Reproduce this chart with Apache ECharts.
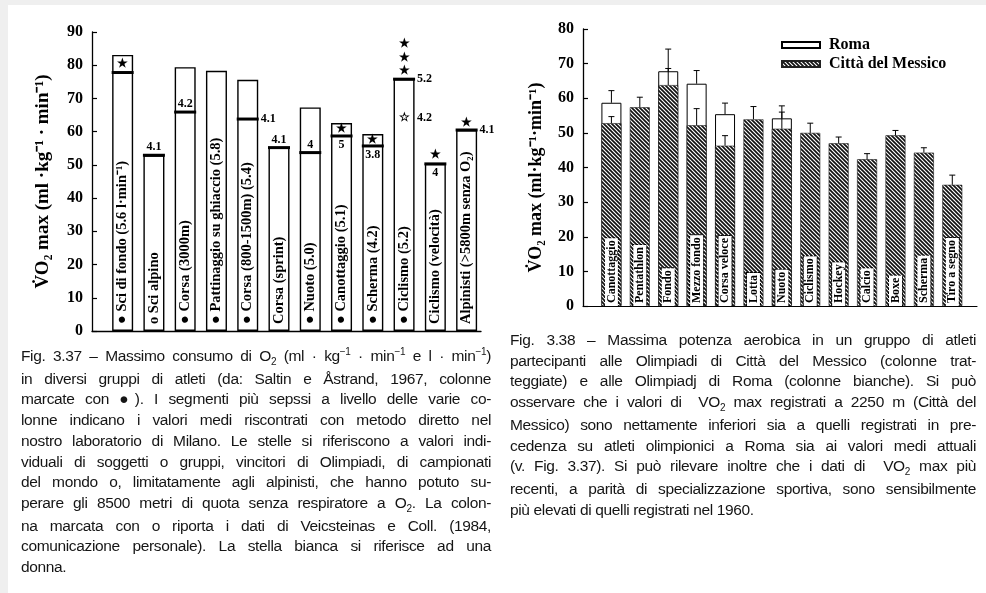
<!DOCTYPE html>
<html><head><meta charset="utf-8">
<script src="https://cdn.jsdelivr.net/npm/echarts@6/dist/echarts.min.js"></script>
<style>
html,body{margin:0;padding:0;background:#fff;width:986px;height:593px;overflow:hidden;}
#bandTop{position:absolute;left:0;top:0;width:986px;height:5px;background:#efefef;}
#bandLeft{position:absolute;left:0;top:0;width:8px;height:593px;background:#efefef;}
#c{position:absolute;left:0;top:0;width:986px;height:593px;}
.cap{position:absolute;font-family:"Liberation Sans",Arial,sans-serif;font-size:15.5px;letter-spacing:-0.35px;line-height:20.7px;color:#151515;}
.cap div{text-align:justify;text-align-last:justify;white-space:nowrap;}
.cap div.last{text-align-last:left;}
.sb{font-size:10px;position:relative;top:4px;}
.sp{font-size:10px;position:relative;top:-6px;}
</style></head>
<body>
<div id="bandTop"></div><div id="bandLeft"></div>
<div id="c"></div>
<div class="cap" id="capL" style="left:21px;top:346px;width:470px;"></div>
<div class="cap" id="capR" style="left:510px;top:330px;width:466px;"></div>
<script>
// ---------- Fig. 3.37 data ----------
const leftCats = ['● Sci di fondo (5.6 l·min⁻¹)', 'o Sci alpino', '● Corsa (3000m)', '● Pattinaggio su ghiaccio (5.8)',
  '● Corsa (800-1500m) (5.4)', 'Corsa (sprint)', '● Nuoto (5.0)', '● Canottaggio (5.1)', '● Scherma (4.2)',
  '● Ciclismo (5.2)', 'Ciclismo (velocità)', 'Alpinisti (>5800m senza O₂)'];
const leftValues = [83.1, 52.9, 79.4, 78.3, 75.6, 55.2, 67.3, 62.6, 59.3, 75.8, 50.3, 60.5];
const leftMilano = [77.8, 52.9, 65.9, null, 63.8, 55.2, 53.7, 58.7, 55.7, 75.8, 50.3, 60.5];
// [bar index, value, text, placement]
const leftNotes = [[1, 52.9, '4.1', 'above'], [2, 65.9, '4.2', 'above'], [4, 63.8, '4.1', 'right'],
  [5, 55.2, '4.1', 'above'], [6, 53.7, '4', 'above'], [7, 58.7, '5', 'below'], [8, 55.7, '3.8', 'below'],
  [9, 75.8, '5.2', 'right'], [9, 64.1, '4.2', 'right'], [10, 50.3, '4', 'below'], [11, 60.5, '4.1', 'right']];
const leftStars = [[0, 80.3, '★'], [7, 60.7, '★'], [8, 57.5, '★'], [9, 86.4, '★'], [9, 82.1, '★'],
  [9, 78.3, '★'], [9, 64.1, '☆'], [10, 53.1, '★'], [11, 62.6, '★']];
const leftTicks = [0, 10, 20, 30, 40, 50, 60, 70, 80, 90];

// ---------- Fig. 3.38 data ----------
const rightCats = ['Canottaggio', 'Pentathlon', 'Fondo', 'Mezzo fondo', 'Corsa veloce', 'Lotta', 'Nuoto',
  'Ciclismo', 'Hockey', 'Calcio', 'Boxe', 'Scherma', 'Tiro a segno'];
const romaValues = [58.7, null, 67.8, 64.2, 55.4, null, 54.2, null, null, null, null, null, null];
const romaErrTop = [62.2, null, 74.2, 68.0, 58.6, null, 57.8, null, null, null, null, null, null];
const messicoValues = [52.8, 57.4, 63.8, 52.2, 46.3, 53.9, 51.2, 50.0, 47.0, 42.4, 49.3, 44.3, 35.0];
const messicoErrTop = [54.7, 60.3, 68.6, 57.0, 49.2, 57.6, 56.0, 52.8, 48.8, 44.0, 50.7, 45.7, 37.8];
const rightTicks = [0, 10, 20, 30, 40, 50, 60, 70, 80];

// ---------- captions ----------
const capLeft = [
 'Fig. 3.37 – Massimo consumo di O<span class="sb">2</span> (ml · kg<span class="sp">−1</span> · min<span class="sp">−1</span> e l · min<span class="sp">−1</span>)',
 'in diversi gruppi di atleti (da: Saltin e Åstrand, 1967, colonne',
 'marcate con ●). I segmenti più sepssi a livello delle varie co-',
 'lonne indicano i valori medi riscontrati con metodo diretto nel',
 'nostro laboratorio di Milano. Le stelle si riferiscono a valori indi-',
 'viduali di soggetti o gruppi, vincitori di Olimpiadi, di campionati',
 'del mondo o, limitatamente agli alpinisti, che hanno potuto su-',
 'perare gli 8500 metri di quota senza respiratore a O<span class="sb">2</span>. La colon-',
 'na marcata con o riporta i dati di Veicsteinas e Coll. (1984,',
 'comunicazione personale). La stella bianca si riferisce ad una',
 'donna.'];
const capRight = [
 'Fig. 3.38 – Massima potenza aerobica in un gruppo di atleti',
 'partecipanti alle Olimpiadi di Città del Messico (colonne trat-',
 'teggiate) e alle Olimpiadj di Roma (colonne bianche). Si può',
 'osservare che i valori di &nbsp;VO<span class="sb">2</span> max registrati a 2250 m (Città del',
 'Messico) sono nettamente inferiori sia a quelli registrati in pre-',
 'cedenza su atleti olimpionici a Roma sia ai valori medi attuali',
 '(v. Fig. 3.37). Si può rilevare inoltre che i dati di &nbsp;VO<span class="sb">2</span> max più',
 'recenti, a parità di specializzazione sportiva, sono sensibilmente',
 'più elevati di quelli registrati nel 1960.'];
function fillCap(id, lines){
  document.getElementById(id).innerHTML = lines.map((l, i) =>
    '<div' + (i === lines.length - 1 ? ' class="last"' : '') + '>' + l + '</div>').join('');
}
fillCap('capL', capLeft);
fillCap('capR', capRight);

// ---------- hatch pattern ----------
const hatch = document.createElement('canvas');
hatch.width = 4; hatch.height = 4;
(function(){
  const g = hatch.getContext('2d');
  g.fillStyle = '#fff'; g.fillRect(0, 0, 4, 4);
  g.strokeStyle = '#111'; g.lineWidth = 1.7;
  for (let k = -1; k <= 1; k++) {
    g.beginPath(); g.moveTo(-1, -1 + k * 4); g.lineTo(5, 5 + k * 4); g.stroke();
  }
})();
const hatchFill = { image: hatch, repeat: 'repeat' };

const SERIF = '"Liberation Serif","Times New Roman",serif';
const chart = echarts.init(document.getElementById('c'), null, { renderer: 'canvas' });

const axisCommon = {
  axisLine: { show: true, onZero: false, lineStyle: { color: '#000', width: 1.3 } },
  axisTick: { show: true, inside: true, length: 5, lineStyle: { color: '#000', width: 1.2 } },
  splitLine: { show: false },
  axisLabel: { color: '#000', fontFamily: SERIF, fontWeight: 'bold', fontSize: 16, margin: 9 },
  nameLocation: 'middle',
  nameTextStyle: { color: '#000', fontFamily: SERIF, fontWeight: 'bold' }
};

function textEl(x, y, text, align, vAlign, size){
  return { type: 'text', style: { x: x, y: y, text: text, fill: '#000',
    font: 'bold ' + size + 'px ' + SERIF, align: align, verticalAlign: vAlign } };
}

chart.setOption({
  animation: false,
  backgroundColor: 'transparent',
  grid: [
    { left: 92, top: 32, width: 389, height: 299 },
    { left: 583, top: 29, width: 394, height: 277 }
  ],
  legend: {
    data: ['Roma', 'Città del Messico'],
    orient: 'vertical', left: 781, top: 37, padding: 0, itemWidth: 38, itemHeight: 6, itemGap: 3,
    icon: 'rect',
    textStyle: { color: '#000', fontFamily: SERIF, fontWeight: 'bold', fontSize: 16, padding: [0, 0, 0, 4] }
  },
  xAxis: [
    { type: 'value', gridIndex: 0, min: -0.98, max: 11.46,
      axisLine: { show: true, onZero: false, lineStyle: { color: '#000', width: 1.3 } },
      axisTick: { show: false }, axisLabel: { show: false }, splitLine: { show: false } },
    { type: 'value', gridIndex: 1, min: -1.0, max: 12.87,
      axisLine: { show: true, onZero: false, lineStyle: { color: '#000', width: 1.1 } },
      axisTick: { show: false }, axisLabel: { show: false }, splitLine: { show: false } }
  ],
  yAxis: [
    Object.assign({}, axisCommon, { type: 'value', gridIndex: 0, min: leftTicks[0], max: leftTicks[leftTicks.length - 1], interval: 10,
      name: 'V̇O₂ max (ml ·kg⁻¹ · min⁻¹)', nameGap: 39,
      nameTextStyle: { color: '#000', fontFamily: SERIF, fontWeight: 'bold', fontSize: 19 } }),
    Object.assign({}, axisCommon, { type: 'value', gridIndex: 1, min: rightTicks[0], max: rightTicks[rightTicks.length - 1], interval: 10,
      name: 'V̇O₂ max (ml·kg⁻¹·min⁻¹)', nameGap: 38,
      nameTextStyle: { color: '#000', fontFamily: SERIF, fontWeight: 'bold', fontSize: 18, padding: [0, 20, 0, 0] } })
  ],
  series: [
    // ----- left chart -----
    { type: 'bar', xAxisIndex: 0, yAxisIndex: 0, barWidth: 21, z: 2,
      data: leftValues.map((v, i) => [i, v]),
      itemStyle: { color: '#fff', borderColor: '#000', borderWidth: 1.4 },
      label: { show: true, position: 'insideBottom', distance: 7, rotate: 90, align: 'left', verticalAlign: 'middle',
        formatter: p => leftCats[p.dataIndex], color: '#000', fontFamily: SERIF, fontWeight: 'bold', fontSize: 14.5 } },
    { type: 'custom', xAxisIndex: 0, yAxisIndex: 0, z: 4,
      data: leftMilano.map((v, i) => [i, v]).filter(d => d[1] != null),
      renderItem: (params, api) => {
        const p = api.coord([api.value(0), api.value(1)]);
        return { type: 'rect', shape: { x: p[0] - 11, y: p[1] - 1.5, width: 22, height: 3 }, style: { fill: '#000' } };
      } },
    { type: 'custom', xAxisIndex: 0, yAxisIndex: 0, z: 5,
      data: leftNotes.map(n => [n[0], n[1]]),
      renderItem: (params, api) => {
        const n = leftNotes[params.dataIndex];
        const p = api.coord([api.value(0), api.value(1)]);
        if (n[3] === 'above') return textEl(p[0], p[1] - 2, n[2], 'center', 'bottom', 12);
        if (n[3] === 'below') return textEl(p[0], p[1] + 3, n[2], 'center', 'top', 12);
        return textEl(p[0] + 13, p[1], n[2], 'left', 'middle', 12);
      } },
    { type: 'custom', xAxisIndex: 0, yAxisIndex: 0, z: 5,
      data: leftStars.map(s => [s[0], s[1]]),
      renderItem: (params, api) => {
        const s = leftStars[params.dataIndex];
        const p = api.coord([api.value(0), api.value(1)]);
        return textEl(p[0], p[1], s[2], 'center', 'middle', 12);
      } },
    // ----- right chart -----
    { type: 'bar', name: 'Roma', xAxisIndex: 1, yAxisIndex: 1, barWidth: 20, z: 2,
      data: romaValues.map((v, i) => [i, v == null ? '-' : v]),
      itemStyle: { color: '#fff', borderColor: '#000', borderWidth: 1 } },
    { type: 'bar', name: 'Città del Messico', xAxisIndex: 1, yAxisIndex: 1, barWidth: 20, barGap: '-100%', z: 3,
      data: messicoValues.map((v, i) => [i, v]),
      itemStyle: { color: hatchFill, borderColor: '#222', borderWidth: 0.6 },
      label: { show: true, position: 'insideBottom', distance: 2, rotate: 90, align: 'left', verticalAlign: 'middle',
        offset: [-2, 0],
        formatter: p => rightCats[p.dataIndex], color: '#000', fontFamily: SERIF, fontWeight: 'bold', fontSize: 12,
        backgroundColor: '#fff', borderColor: '#000', borderWidth: 1, borderType: 'dotted', padding: [1, 2, 0, 3] } },
    { type: 'custom', xAxisIndex: 1, yAxisIndex: 1, z: 6,
      data: romaValues.map((v, i) => [i, v, romaErrTop[i]]).filter(d => d[1] != null)
        .concat(messicoValues.map((v, i) => [i, v, messicoErrTop[i]])),
      renderItem: (params, api) => {
        const b = api.coord([api.value(0), api.value(1)]);
        const t = api.coord([api.value(0), api.value(2)]);
        const st = { stroke: '#000', lineWidth: 1 };
        return { type: 'group', children: [
          { type: 'line', shape: { x1: b[0], y1: b[1], x2: t[0], y2: t[1] }, style: st },
          { type: 'line', shape: { x1: t[0] - 3, y1: t[1], x2: t[0] + 3, y2: t[1] }, style: st }
        ] };
      } }
  ]
});
</script>
</body></html>
